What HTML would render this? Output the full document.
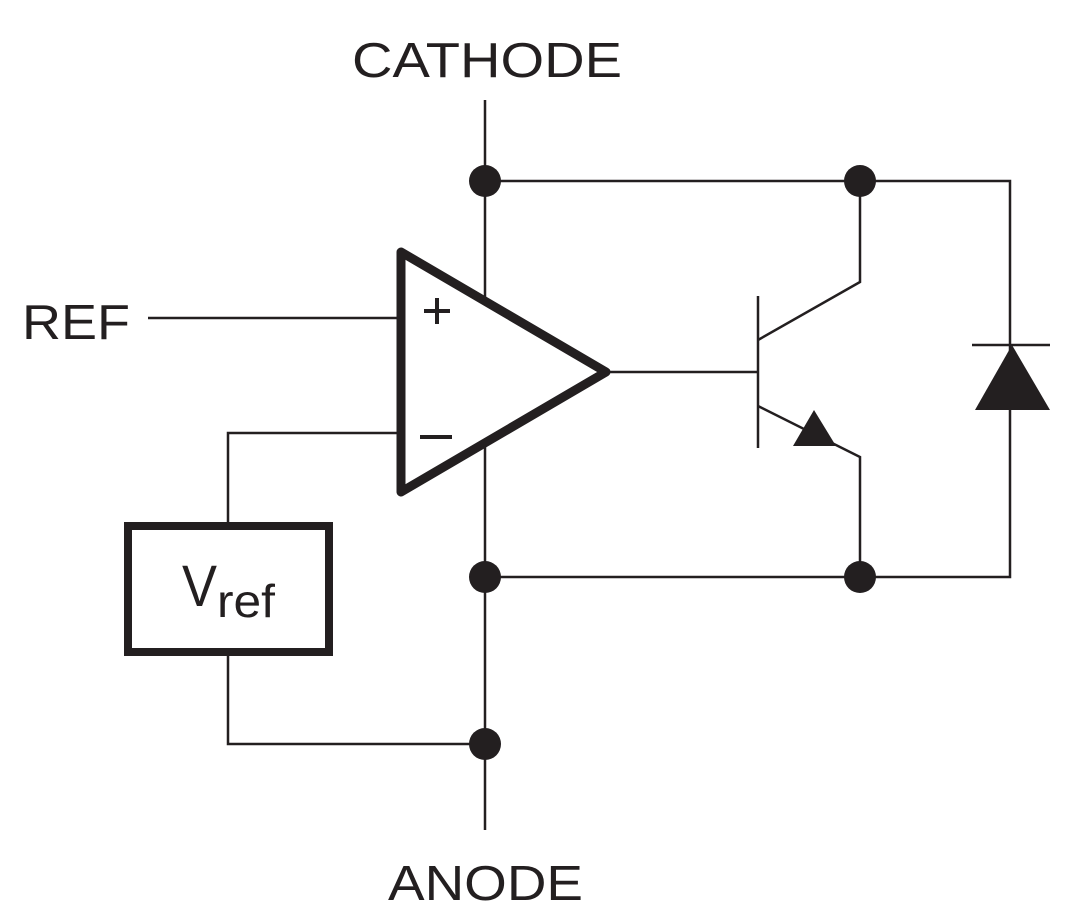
<!DOCTYPE html>
<html><head><style>body{margin:0;background:#fff}svg{display:block}</style></head>
<body>
<svg width="1073" height="924" viewBox="0 0 1073 924" xmlns="http://www.w3.org/2000/svg">
<g stroke="#231f20" stroke-width="2.5" fill="none">
<line x1="485" y1="100" x2="485" y2="830"/>
<polyline points="485,181 1010,181 1010,577 485,577"/>
<line x1="148" y1="318" x2="400" y2="318"/>
<polyline points="400,433 228,433 228,522"/>
<polyline points="228,655 228,744 485,744"/>
<line x1="610" y1="372" x2="758" y2="372"/>
<line x1="758" y1="296" x2="758" y2="448"/>
<polyline points="758,340 860,282 860,181"/>
<polyline points="758,406 860,457 860,577"/>
<line x1="972" y1="345" x2="1050" y2="345"/>
</g>
<polygon points="1012,345 975,410 1050,410" fill="#231f20"/>
<polygon points="814,410 793,446 836,446" fill="#231f20"/>
<polygon points="401,252 606,372 401,492" fill="#fff" stroke="#231f20" stroke-width="9" stroke-linejoin="round"/>
<rect x="128" y="526" width="201" height="126" fill="#fff" stroke="#231f20" stroke-width="8"/>
<g fill="#231f20">
<circle cx="485" cy="181" r="16"/><circle cx="860" cy="181" r="16"/>
<circle cx="485" cy="577" r="16"/><circle cx="860" cy="577" r="16"/>
<circle cx="485" cy="744" r="16"/>
</g>
<g stroke="#231f20" stroke-width="4">
<line x1="424" y1="311" x2="450" y2="311"/><line x1="437" y1="298" x2="437" y2="324"/>
<line x1="420" y1="437" x2="452" y2="437"/>
</g>
<g font-family="Liberation Sans, sans-serif" fill="#231f20">
<text x="352" y="77" font-size="49" textLength="270" lengthAdjust="spacingAndGlyphs">CATHODE</text>
<text x="22" y="339" font-size="49" textLength="108" lengthAdjust="spacingAndGlyphs">REF</text>
<text x="388" y="900" font-size="49" textLength="195" lengthAdjust="spacingAndGlyphs">ANODE</text>
<text x="182" y="606" font-size="58" textLength="35" lengthAdjust="spacingAndGlyphs">V</text>
<text x="217" y="617" font-size="46" textLength="58" lengthAdjust="spacingAndGlyphs">ref</text>
</g>
</svg>
</body></html>
